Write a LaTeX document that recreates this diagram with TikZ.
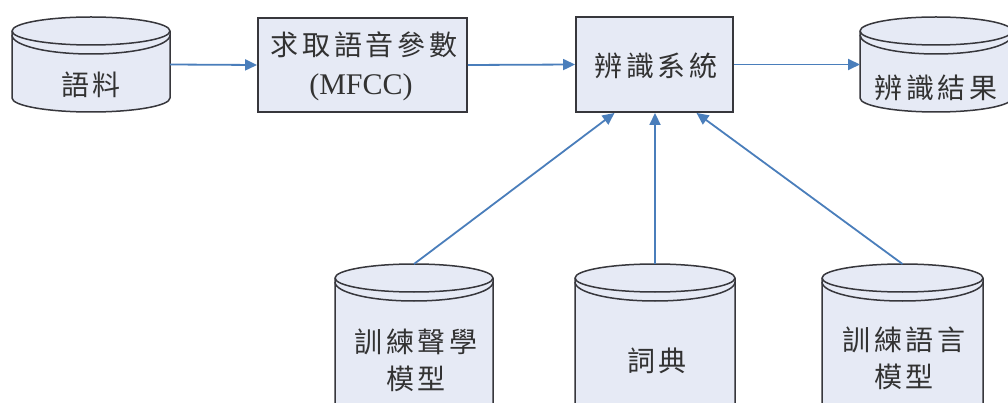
\documentclass[tikz,border=0pt]{standalone}
\usepackage{fontspec}
\setmainfont{Liberation Serif}
\newfontfamily\cjk[LetterSpace=13]{Noto Sans CJK TC}
\usetikzlibrary{arrows.meta,calc}

\definecolor{boxfill}{RGB}{230,234,245}
\definecolor{edge}{RGB}{55,55,60}
\definecolor{flowblue}{RGB}{74,126,187}
\definecolor{ink}{RGB}{50,50,50}

\tikzset{
  cylbody/.style={fill=boxfill, draw=edge, line width=1.5pt},
  cylline/.style={draw=edge, line width=1.5pt},
  procbox/.style={rectangle, fill=boxfill, draw=edge, line width=1.9pt, inner sep=0pt},
  cjklabel/.style={text=ink, font=\cjk\fontsize{28}{37}\selectfont, align=center, inner sep=0pt},
  latinlabel/.style={text=ink, font=\fontsize{30}{36}\selectfont, inner sep=0pt},
  flow/.style={draw=flowblue, line width=1.8pt, -{Triangle[length=12pt,width=11pt]}},
  anchorbox/.style={rectangle, draw=none, inner sep=0pt, outer sep=0pt}
}

% database cylinder: #1 name, #2 left, #3 right, #4 top, #5 bottom
\newcommand\dbcyl[5]{%
  \pgfmathsetmacro\cylcx{(#2+#3)/2}%
  \pgfmathsetmacro\cylrx{(#3-#2)/2}%
  \pgfmathsetmacro\cylw{#3-#2}%
  \pgfmathsetmacro\cylh{#5-#4}%
  \pgfmathsetmacro\cylcy{(#4+#5)/2}%
  \pgfmathsetmacro\cylty{#4+14}%
  \pgfmathsetmacro\cylrim{#4+18}%
  \pgfmathsetmacro\cylby{#5-14}%
  \path[cylbody] (#2,\cylty) -- (#2,\cylby)
    arc[start angle=180, end angle=360, x radius=\cylrx pt, y radius=14pt]
    -- (#3,\cylty)
    arc[start angle=0, end angle=180, x radius=\cylrx pt, y radius=14pt] -- cycle;
  \draw[cylline] (#2,\cylty)
    arc[start angle=180, end angle=360, x radius=\cylrx pt, y radius=14pt];
  \draw[cylline] (#2,\cylrim)
    arc[start angle=180, end angle=360, x radius=\cylrx pt, y radius=19pt];
  \node[anchorbox, minimum width=\cylw pt, minimum height=\cylh pt] (#1) at (\cylcx,\cylcy) {};
}

\begin{document}
\begin{tikzpicture}[x=1pt, y=-1pt]
  \useasboundingbox (0,0) rectangle (1008,403);
  \fill[white] (0,0) rectangle (1008,403);
  \clip (0,0) rectangle (1008,403);

  % data stores
  \dbcyl{corpus}{12}{170}{17}{112}
  \dbcyl{result}{860}{1012}{17}{112}
  \dbcyl{acoustic}{335}{493}{264}{440}
  \dbcyl{lexicon}{575}{735}{264}{440}
  \dbcyl{langmodel}{822}{983}{264}{440}

  \node[cjklabel] (corpus-t) at (91,85) {語料};
  \node[cjklabel] (result-t) at (936,88) {辨識結果};
  \node[cjklabel] (acoustic-t) at (416,360) {訓練聲學\\模型};
  \node[cjklabel] (lexicon-t) at (657,361) {詞典};
  \node[cjklabel] (langmodel-t) at (904,358) {訓練語言\\模型};

  % processing steps
  \node[procbox, minimum width=209pt, minimum height=94pt] (mfcc) at (362.5,65) {};
  \node[cjklabel] (mfcc-t1) at (364,45) {求取語音參數};
  \node[latinlabel] (mfcc-t2) at (361,87) {(MFCC)};

  \node[procbox, minimum width=157pt, minimum height=95pt] (recog) at (654.5,64.5) {};
  \node[cjklabel] (recog-t) at (656,66) {辨識系統};

  % data flow
  \draw[flow] (corpus.east) -- (mfcc.west);
  \draw[flow] (mfcc.east) -- (recog.west);
  \draw[flow] (recog.east) -- (corpus.east -| result.west);
  \draw[flow] (acoustic.north) -- ($(recog.south)+(-40,0)$);
  \draw[flow] (lexicon.north) -- (lexicon.north |- recog.south);
  \draw[flow] (langmodel.north) -- ($(recog.south)+(42,0)$);
\end{tikzpicture}
\end{document}
